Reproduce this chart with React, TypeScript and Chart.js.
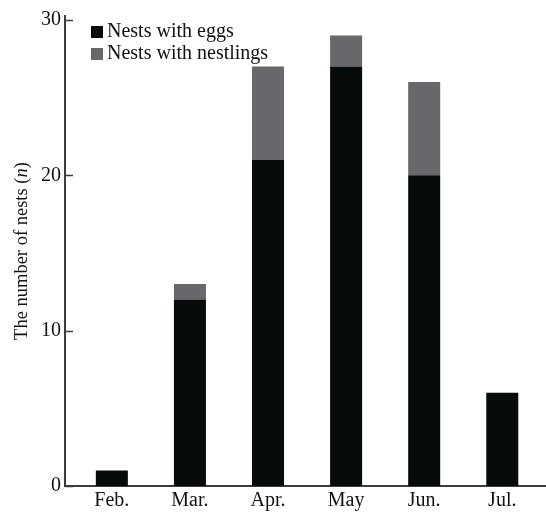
import React, { useEffect, useRef } from "react";
import { Chart, registerables } from "chart.js";

Chart.register(...registerables);

const months = ["Feb.", "Mar.", "Apr.", "May", "Jun.", "Jul."];
const nestsWithEggs = [1, 12, 21, 27, 20, 6];
const nestsWithNestlings = [0, 1, 6, 2, 6, 0];
const yTicks = [0, 10, 20, 30];

const EGG_COLOR = "#080b0c";
const NESTLING_COLOR = "#6a676c";
const AXIS_COLOR = "#3c3c3c";
const FONT = "'Liberation Serif', 'Times New Roman', serif";

const overlayPlugin = {
  id: "overlay",
  afterDraw(chart: any) {
    const { ctx, chartArea, scales } = chart;
    const y = scales.y;
    ctx.save();
    // inward ticks on the y axis
    ctx.strokeStyle = AXIS_COLOR;
    ctx.lineWidth = 1.5;
    for (const t of yTicks) {
      const py = Math.round(y.getPixelForValue(t)) + 0.5;
      ctx.beginPath();
      ctx.moveTo(chartArea.left, py);
      ctx.lineTo(chartArea.left + 8, py);
      ctx.stroke();
    }

    // legend
    ctx.font = `20px ${FONT}`;
    ctx.textBaseline = "middle";
    const items = [
      { label: "Nests with eggs", color: EGG_COLOR },
      { label: "Nests with nestlings", color: NESTLING_COLOR },
    ];
    items.forEach((it, i) => {
      const cy = 31 + i * 22;
      ctx.fillStyle = it.color;
      ctx.fillRect(91, cy - 5, 12, 12);
      ctx.fillStyle = "#111";
      ctx.fillText(it.label, 107, cy + 1);
    });

    // y axis title with italic n
    const size = 18.5;
    const parts = [
      { text: "The number of nests (", italic: false },
      { text: "n", italic: true },
      { text: ")", italic: false },
    ];
    const widths = parts.map((p) => {
      ctx.font = `${p.italic ? "italic " : ""}${size}px ${FONT}`;
      return ctx.measureText(p.text).width;
    });
    const total = widths.reduce((a, b) => a + b, 0);
    ctx.translate(27, 251);
    ctx.rotate(-Math.PI / 2);
    ctx.textBaseline = "alphabetic";
    ctx.fillStyle = "#111";
    let x = -total / 2;
    parts.forEach((p, i) => {
      ctx.font = `${p.italic ? "italic " : ""}${size}px ${FONT}`;
      ctx.fillText(p.text, x, 0);
      x += widths[i];
    });
    ctx.restore();
  },
};

export default function App() {
  const canvasRef = useRef<HTMLCanvasElement | null>(null);

  useEffect(() => {
    if (!canvasRef.current) return;
    const chart = new Chart(canvasRef.current, {
      type: "bar",
      data: {
        datasets: [
          {
            label: "Nests with eggs",
            data: nestsWithEggs.map((v, i) => ({ x: i, y: v })),
            backgroundColor: EGG_COLOR,
            barPercentage: 0.41,
            categoryPercentage: 1,
          },
          {
            label: "Nests with nestlings",
            data: nestsWithNestlings.map((v, i) => ({ x: i, y: v })),
            backgroundColor: NESTLING_COLOR,
            barPercentage: 0.41,
            categoryPercentage: 1,
          },
        ],
      },
      plugins: [overlayPlugin],
      options: {
        animation: false,
        responsive: false,
        maintainAspectRatio: false,
        layout: { padding: { top: 16, left: 0, right: 0, bottom: 0 } },
        plugins: {
          legend: { display: false },
          tooltip: { enabled: false },
        },
        scales: {
          x: {
            type: "linear",
            stacked: true,
            offset: false,
            min: -0.6,
            max: 5.56,
            afterBuildTicks: (scale: any) => {
              scale.ticks = months.map((_, i) => ({ value: i }));
            },
            afterFit: (scale: any) => {
              scale.height = 26;
            },
            ticks: {
              callback: (v: any) => months[v as number] ?? "",
              color: "#111",
              font: { family: FONT, size: 20 },
              padding: 3,
              maxRotation: 0,
              autoSkip: false,
            },
            grid: { display: false, drawTicks: false },
            border: { display: true, color: AXIS_COLOR, width: 2 },
          },
          y: {
            stacked: true,
            min: 0,
            max: 30.25,
            afterBuildTicks: (scale: any) => {
              scale.ticks = yTicks.map((v) => ({ value: v }));
            },
            afterFit: (scale: any) => {
              scale.width = 65;
            },
            ticks: {
              color: "#111",
              font: { family: FONT, size: 20 },
              padding: 4,
            },
            grid: { display: false, drawTicks: false },
            border: { display: true, color: AXIS_COLOR, width: 2 },
          },
        },
      },
    });
    return () => chart.destroy();
  }, []);

  return (
    <div style={{ position: "absolute", left: 0, top: 0, width: 546, height: 512, background: "#fff" }}>
      <canvas ref={canvasRef} width={546} height={512} style={{ width: 546, height: 512 }} />
    </div>
  );
}
